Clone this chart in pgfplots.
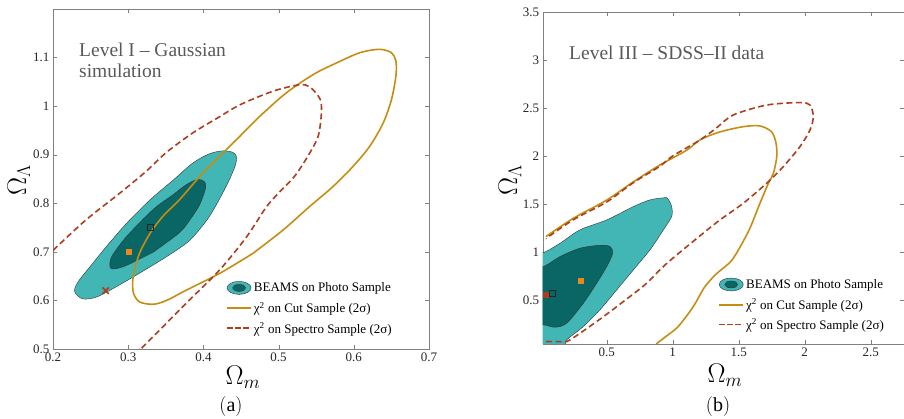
\documentclass[border=0pt]{standalone}
\usepackage{fix-cm}
\usepackage{fontspec}
\setmainfont{Liberation Serif}
\usepackage{pgfplots}
\pgfplotsset{compat=1.18}

\definecolor{cyanL}{RGB}{66,181,181}
\definecolor{tealD}{RGB}{10,101,101}
\definecolor{goldC}{RGB}{196,142,20}
\definecolor{redC}{RGB}{172,62,30}
\definecolor{orangeM}{RGB}{232,137,26}

\pgfplotsset{
  panel/.style={
    scale only axis, anchor=south west,
    axis line style={draw=black!50},
    tick style={draw=black!50},
    major tick length=4pt,
    tick align=inside,
    ticklabel style={font=\fontsize{13}{15}\selectfont, text=black!85},
    /pgf/number format/assume math mode=true,
    legend style={draw=none, fill=none, anchor=north west,
      font=\fontsize{13}{15}\selectfont, row sep=7pt,
      inner sep=0pt, nodes={inner xsep=2pt, inner ysep=0.5pt}},
    legend cell align=left,
  },
  beams/.style={fill=cyanL, draw=black!80, line width=0.4pt, smooth, tension=0.5,
    legend image code/.code={
      \draw[fill=cyanL,draw=black!80,line width=0.4pt] (12pt,0pt) ellipse (12pt and 6.5pt);
      \draw[fill=tealD,draw=black!80,line width=0.4pt] (12pt,0pt) ellipse (6.5pt and 3.5pt);}},
  beamsin/.style={fill=tealD, draw=black!80, line width=0.4pt, smooth, tension=0.5, forget plot},
  cut/.style={draw=goldC, line width=1.6pt, smooth, tension=0.5,
    legend image code/.code={\draw[draw=goldC, line width=1.8pt] (0pt,0pt) -- (24pt,0pt);}},
  spec/.style={draw=redC, line width=1.6pt, dash pattern=on 6pt off 3.5pt, smooth, tension=0.5,
    legend image code/.code={\draw[draw=redC, line width=1.8pt, dash pattern=on 6pt off 2pt] (0pt,0.5pt) -- (24pt,0.5pt);}},
}

\begin{document}
\begin{tikzpicture}

% ---------------- (a) Level I ----------------
\begin{axis}[panel,
  at={(53pt,70pt)}, width=376pt, height=340pt,
  xmin=0.2, xmax=0.7, ymin=0.5, ymax=1.2,
  xtick={0.2,0.3,...,0.7}, ytick={0.5,0.6,...,1.1},
  legend style={at={(0.46,0.20)}},
]
\addplot[beams] coordinates {
  (0.315,0.656) (0.351,0.690) (0.382,0.724) (0.408,0.773) (0.430,0.834)
  (0.442,0.876) (0.444,0.896) (0.439,0.905) (0.426,0.908) (0.408,0.902)
  (0.386,0.883) (0.360,0.848) (0.329,0.807) (0.298,0.759) (0.271,0.711)
  (0.249,0.669) (0.235,0.642) (0.229,0.625) (0.230,0.614) (0.240,0.603)
  (0.258,0.607) (0.284,0.628) (0.315,0.656)} -- cycle;
\addlegendentry{BEAMS on Photo Sample}
\addplot[beamsin] coordinates {
  (0.333,0.699) (0.3685,0.740) (0.383,0.768) (0.395,0.797) (0.403,0.832)
  (0.401,0.845) (0.392,0.849) (0.377,0.838) (0.360,0.818) (0.333,0.787)
  (0.2975,0.731) (0.278,0.690) (0.276,0.668) (0.282,0.665) (0.2975,0.672)
  (0.333,0.699)} -- cycle;
\addplot[cut] coordinates {
  (0.466,0.697) (0.422,0.656) (0.377,0.621) (0.351,0.600) (0.333,0.592)
  (0.315,0.597) (0.307,0.615) (0.306,0.640) (0.309,0.665) (0.315,0.697)
  (0.329,0.738) (0.346,0.773) (0.368,0.807) (0.395,0.855) (0.417,0.890)
  (0.444,0.931) (0.475,0.979) (0.510,1.027) (0.546,1.065) (0.577,1.089)
  (0.608,1.110) (0.634,1.117) (0.650,1.110) (0.656,1.093) (0.656,1.062)
  (0.650,1.013) (0.639,0.965) (0.621,0.917) (0.599,0.876) (0.572,0.834)
  (0.541,0.793) (0.506,0.745) (0.466,0.697)};
\addlegendentry{χ\textsuperscript{2} on Cut Sample (2σ)}
\addplot[spec] coordinates {
  (0.200,0.703) (0.244,0.766) (0.289,0.821) (0.324,0.866) (0.351,0.905)
  (0.386,0.945) (0.417,0.974) (0.449,1.003) (0.493,1.031) (0.528,1.044)
  (0.542,1.039) (0.555,1.015) (0.557,0.988) (0.553,0.940) (0.542,0.905)
  (0.522,0.857) (0.503,0.826) (0.484,0.793) (0.457,0.730) (0.4217,0.663)
  (0.377,0.594) (0.320,0.505) (0.316,0.500)};
\addlegendentry{χ\textsuperscript{2} on Spectro Sample (2σ)}
\addplot[only marks, mark=square*, mark size=2.5pt, color=orangeM, forget plot] coordinates {(0.30,0.70)};
\addplot[only marks, mark=square, mark size=3pt, color=black!85, line width=0.7pt, forget plot] coordinates {(0.33,0.75)};
\addplot[only marks, mark=x, mark size=4.5pt, color=redC, line width=1.6pt, forget plot] coordinates {(0.27,0.62)};
\end{axis}

% ---------------- (b) Level III ----------------
\begin{axis}[panel,
  at={(542.7pt,75pt)}, width=361pt, height=332pt,
  xmin=0.015, xmax=2.75, ymin=0.04, ymax=3.5,
  xtick={0.5,1,...,2.5}, ytick={0.5,1,...,3.5},
  legend style={at={(0.486,0.20)}},
]
\addplot[beams] coordinates {
  (-0.1,0.99) (0.015,0.99) (0.146,1.09) (0.298,1.23) (0.5,1.333)
  (0.702,1.472) (0.828,1.542) (0.93,1.563) (0.96,1.56) (0.992,1.472)
  (0.992,1.368) (0.929,1.229) (0.828,1.021) (0.702,0.8125) (0.576,0.604)
  (0.449,0.396) (0.323,0.222) (0.197,0.083) (0.16,0.0) (-0.1,0.0)} -- cycle;
\addlegendentry{BEAMS on Photo Sample}
\addplot[beamsin] coordinates {
  (-0.1,0.847) (0.02,0.847) (0.146,0.951) (0.298,1.038) (0.449,1.069)
  (0.525,1.056) (0.545,0.986) (0.5,0.847) (0.424,0.674) (0.323,0.465)
  (0.197,0.257) (0.108,0.215) (0.02,0.24) (-0.1,0.24)} -- cycle;
\addplot[cut] coordinates {
  (0.04,1.16) (0.247,1.35) (0.5,1.54) (0.702,1.73) (0.904,1.906)
  (1.106,2.06) (1.21,2.17) (1.358,2.25) (1.535,2.305) (1.661,2.3125)
  (1.75,2.25) (1.783,2.13) (1.788,1.99) (1.763,1.82) (1.725,1.716)
  (1.661,1.507) (1.586,1.25) (1.51,1.05) (1.44,0.9) (1.33,0.77)
  (1.24,0.63) (1.156,0.43) (1.04,0.22) (0.94,0.11) (0.875,0.04)};
\addlegendentry{χ\textsuperscript{2} on Cut Sample (2σ)}
\addplot[spec] coordinates {
  (0.04,0.066) (0.17,0.066) (0.222,0.083) (0.45,0.30) (0.7,0.56)
  (0.803,0.674) (0.955,0.88) (1.2,1.16) (1.358,1.333) (1.535,1.507)
  (1.712,1.716) (1.838,1.889) (1.964,2.097) (2.04,2.27) (2.065,2.41)
  (2.04,2.53) (1.964,2.556) (1.712,2.53) (1.459,2.427) (1.33,2.29)
  (1.2,2.16) (1.0,2.0) (0.9,1.89) (0.7,1.72) (0.5,1.52)
  (0.247,1.335) (0.04,1.14)};
\addlegendentry{χ\textsuperscript{2} on Spectro Sample (2σ)}
\addplot[only marks, mark=square*, mark size=2.5pt, color=orangeM, forget plot] coordinates {(0.30,0.70)};
\addplot[only marks, mark=square*, mark size=2.6pt, color=redC, forget plot] coordinates {(0.04,0.555)};
\addplot[only marks, mark=square, mark size=3pt, color=black!85, line width=0.7pt, forget plot] coordinates {(0.086,0.566)};
\end{axis}

% titles and labels
\node[anchor=north west, inner sep=0pt, align=left, text=black!65,
  font=\fontsize{19.5}{21}\selectfont] at (79pt,376pt) {Level I -- Gaussian\\simulation};
\node[anchor=north west, inner sep=0pt, align=left, text=black!65,
  font=\fontsize{19.5}{21}\selectfont] at (569pt,373pt) {Level III -- SDSS--II data};
\node[font=\fontsize{27}{30}\selectfont] at (243pt,42pt) {$\Omega_m$};
\node[font=\fontsize{27}{30}\selectfont] at (725pt,44pt) {$\Omega_m$};
\node[font=\fontsize{27}{30}\selectfont, rotate=90] at (19pt,239pt) {$\Omega_\Lambda$};
\node[font=\fontsize{27}{30}\selectfont, rotate=90] at (510pt,239pt) {$\Omega_\Lambda$};
\node[font=\fontsize{20}{22}\selectfont] at (231pt,12pt) {$(\mathrm{a})$};
\node[font=\fontsize{20}{22}\selectfont] at (718pt,12pt) {$(\mathrm{b})$};

\pgfresetboundingbox
\useasboundingbox (0pt,0pt) rectangle (904pt,419pt);
\end{tikzpicture}
\end{document}
